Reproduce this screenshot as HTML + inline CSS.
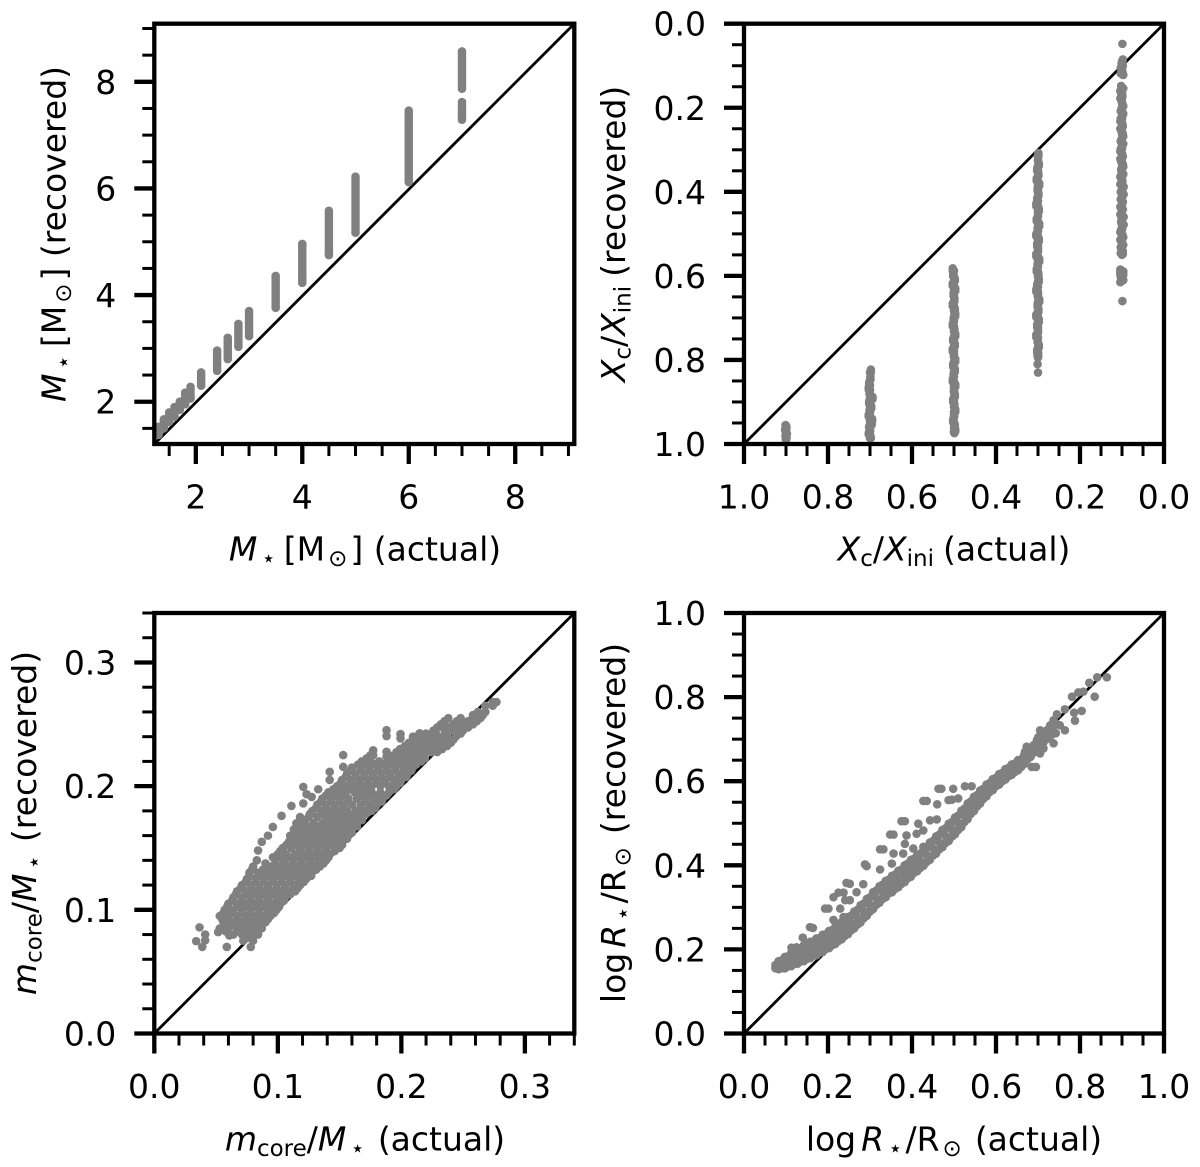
<!DOCTYPE html>
<html lang="en">
<head>
<meta charset="utf-8">
<title>Actual versus recovered stellar parameters</title>
<style>
html,body{margin:0;padding:0;background:#fff;}
svg{display:block;}
text{font-family:"DejaVu Sans",sans-serif;font-size:33px;fill:#000;}
.i{font-style:italic;}
</style>
</head>
<body>
<svg id="figure" xmlns="http://www.w3.org/2000/svg" width="1200" height="1167" viewBox="0 0 1200 1167">
  <rect width="1200" height="1167" fill="#fff"/>
  <g id="panel-mass"></g>
  <g id="panel-hydrogen"></g>
  <g id="panel-core"></g>
  <g id="panel-radius"></g>

  <text x="365" y="560.5" text-anchor="middle"><tspan class="i">M</tspan><tspan dx="4" dy="5.5" font-size="23">⋆</tspan><tspan dx="8" dy="-5.5">[M</tspan><tspan dx="3" dy="5.5" font-size="23">⊙</tspan><tspan dx="3" dy="-5.5">] (actual)</tspan></text>
  <text transform="translate(65.5,234) rotate(-90)" text-anchor="middle"><tspan class="i">M</tspan><tspan dx="4" dy="5.5" font-size="23">⋆</tspan><tspan dx="8" dy="-5.5">[M</tspan><tspan dx="3" dy="5.5" font-size="23">⊙</tspan><tspan dx="3" dy="-5.5">] (recovered)</tspan></text>

  <text x="954" y="560.5" text-anchor="middle"><tspan class="i">X</tspan><tspan dy="5.5" font-size="23">c</tspan><tspan dy="-5.5">/</tspan><tspan class="i">X</tspan><tspan dy="5.5" font-size="23">ini</tspan><tspan dx="9" dy="-5.5">(actual)</tspan></text>
  <text transform="translate(625,234) rotate(-90)" text-anchor="middle"><tspan class="i">X</tspan><tspan dy="5.5" font-size="23">c</tspan><tspan dy="-5.5">/</tspan><tspan class="i">X</tspan><tspan dy="5.5" font-size="23">ini</tspan><tspan dx="9" dy="-5.5">(recovered)</tspan></text>

  <text x="365" y="1150.5" text-anchor="middle"><tspan class="i">m</tspan><tspan dy="5.5" font-size="23">core</tspan><tspan dy="-5.5">/</tspan><tspan class="i">M</tspan><tspan dx="4" dy="5.5" font-size="23">⋆</tspan><tspan dx="13" dy="-5.5">(actual)</tspan></text>
  <text transform="translate(36,823) rotate(-90)" text-anchor="middle"><tspan class="i">m</tspan><tspan dy="5.5" font-size="23">core</tspan><tspan dy="-5.5">/</tspan><tspan class="i">M</tspan><tspan dx="4" dy="5.5" font-size="23">⋆</tspan><tspan dx="13" dy="-5.5">(recovered)</tspan></text>

  <text x="954" y="1150.5" text-anchor="middle">log<tspan class="i" dx="5">R</tspan><tspan dx="4" dy="5.5" font-size="23">⋆</tspan><tspan dx="3" dy="-5.5">/R</tspan><tspan dx="3" dy="5.5" font-size="23">⊙</tspan><tspan dx="13" dy="-5.5">(actual)</tspan></text>
  <text transform="translate(625,823) rotate(-90)" text-anchor="middle">log<tspan class="i" dx="5">R</tspan><tspan dx="4" dy="5.5" font-size="23">⋆</tspan><tspan dx="3" dy="-5.5">/R</tspan><tspan dx="3" dy="5.5" font-size="23">⊙</tspan><tspan dx="13" dy="-5.5">(recovered)</tspan></text>
</svg>

<script>
/* ---------- Tick values and labels ---------- */
const massMajorTicks = [2, 4, 6, 8];
const massTickLabels = ['2', '4', '6', '8'];
const massMinorTicks = [1.5, 2.5, 3, 3.5, 4.5, 5, 5.5, 6.5, 7, 7.5, 8.5, 9];
const fractionMajorTicks = [0, 0.2, 0.4, 0.6, 0.8, 1];
const fractionTickLabels = ['0.0', '0.2', '0.4', '0.6', '0.8', '1.0'];
const fractionMinorTicks = [0.05, 0.1, 0.15, 0.25, 0.3, 0.35, 0.45, 0.5, 0.55, 0.65, 0.7, 0.75, 0.85, 0.9, 0.95];
const coreMajorTicks = [0, 0.1, 0.2, 0.3];
const coreTickLabels = ['0.0', '0.1', '0.2', '0.3'];
const coreMinorTicks = [0.02, 0.04, 0.06, 0.08, 0.12, 0.14, 0.16, 0.18, 0.22, 0.24, 0.26, 0.28, 0.32, 0.34];

/* ---------- Panel 1: stellar mass ---------- */
const massActual = [7, 6, 5, 4.5, 4, 3.5, 3, 2.8, 2.6, 2.4, 2.1, 1.9, 1.8, 1.7, 1.6, 1.5, 1.4, 1.3];
const massRecovered = [
  [8.57, 8.52, 8.47, 8.42, 8.37, 8.32, 8.27, 8.22, 8.17, 8.12, 8.07, 8.02, 7.97, 7.92, 7.87, 7.62, 7.57, 7.52, 7.47, 7.42, 7.37, 7.32, 7.29],
  [7.46, 7.41, 7.36, 7.31, 7.26, 7.21, 7.16, 7.11, 7.06, 7.01, 6.96, 6.91, 6.86, 6.81, 6.76, 6.71, 6.66, 6.61, 6.56, 6.51, 6.46, 6.41, 6.36, 6.31, 6.26, 6.21, 6.16, 6.12],
  [6.22, 6.17, 6.12, 6.07, 6.02, 5.97, 5.92, 5.87, 5.82, 5.77, 5.72, 5.67, 5.62, 5.57, 5.52, 5.47, 5.42, 5.37, 5.32, 5.27, 5.22, 5.17],
  [5.58, 5.53, 5.48, 5.43, 5.38, 5.33, 5.28, 5.23, 5.18, 5.13, 5.08, 5.03, 4.98, 4.93, 4.88, 4.83, 4.78, 4.75],
  [4.96, 4.91, 4.86, 4.81, 4.76, 4.71, 4.66, 4.61, 4.56, 4.51, 4.46, 4.41, 4.36, 4.31, 4.27, 4.23],
  [4.36, 4.31, 4.26, 4.21, 4.16, 4.11, 4.06, 4.01, 3.96, 3.91, 3.86, 3.81, 3.76],
  [3.70, 3.65, 3.60, 3.55, 3.50, 3.45, 3.40, 3.35, 3.30, 3.25, 3.23],
  [3.46, 3.41, 3.36, 3.31, 3.26, 3.21, 3.16, 3.11, 3.06, 3.03],
  [3.20, 3.15, 3.10, 3.05, 3.00, 2.95, 2.90, 2.85, 2.80],
  [2.96, 2.91, 2.86, 2.81, 2.76, 2.71, 2.66, 2.61, 2.58],
  [2.55, 2.50, 2.45, 2.40, 2.35, 2.30],
  [2.28, 2.23, 2.18, 2.13, 2.09, 2.06],
  [2.17, 2.12, 2.07, 2.02, 1.98, 1.95],
  [2.00, 1.96, 1.92, 1.88, 1.85],
  [1.90, 1.85, 1.80, 1.76, 1.72],
  [1.80, 1.75, 1.70, 1.66, 1.62],
  [1.67, 1.63, 1.58, 1.54, 1.50],
  [1.53, 1.49, 1.45, 1.41, 1.38]
];

/* ---------- Panel 2: central hydrogen fraction ---------- */
const hydrogenLevels = [0.9, 0.7, 0.5, 0.3, 0.1];
const hydrogenActual = [
  [0.901, 0.899, 0.902, 0.900, 0.898, 0.901, 0.899, 0.900],
  [0.698, 0.699, 0.702, 0.703, 0.701, 0.694, 0.702, 0.697, 0.701, 0.703, 0.695, 0.696, 0.702, 0.700, 0.703, 0.700, 0.698],
  [0.503, 0.502, 0.498, 0.503, 0.497, 0.501, 0.499, 0.503, 0.498, 0.497, 0.501, 0.503, 0.499, 0.497, 0.502, 0.498, 0.503, 0.500, 0.497, 0.502, 0.498, 0.501, 0.503, 0.497, 0.500, 0.498, 0.502, 0.499, 0.497, 0.500, 0.502, 0.498, 0.497, 0.499],
  [0.299, 0.300, 0.298, 0.302, 0.299, 0.303, 0.297, 0.301, 0.299, 0.302, 0.304, 0.298, 0.300, 0.303, 0.297, 0.301, 0.304, 0.298, 0.302, 0.300, 0.304, 0.297, 0.301, 0.303, 0.299, 0.298, 0.302, 0.304, 0.300, 0.297, 0.301, 0.299, 0.304, 0.298, 0.302, 0.300, 0.304, 0.301, 0.298, 0.302, 0.300, 0.301, 0.300],
  [0.099, 0.098, 0.101, 0.103, 0.099, 0.097, 0.102, 0.104, 0.099, 0.101, 0.097, 0.103, 0.099, 0.104, 0.098, 0.101, 0.097, 0.103, 0.100, 0.104, 0.098, 0.102, 0.097, 0.101, 0.104, 0.099, 0.096, 0.103, 0.100, 0.098, 0.104, 0.101, 0.096, 0.102, 0.099, 0.104, 0.097, 0.101, 0.103, 0.098, 0.100, 0.104, 0.097, 0.103, 0.100, 0.102, 0.097, 0.104, 0.099, 0.101, 0.098]
];
const hydrogenRecovered = [
  [0.955, 0.960, 0.965, 0.970, 0.975, 0.980, 0.985, 0.988],
  [0.823, 0.840, 0.854, 0.866, 0.876, 0.888, 0.898, 0.910, 0.920, 0.930, 0.940, 0.950, 0.958, 0.966, 0.974, 0.980, 0.984],
  [0.582, 0.595, 0.607, 0.618, 0.630, 0.642, 0.654, 0.666, 0.678, 0.690, 0.702, 0.714, 0.726, 0.738, 0.750, 0.762, 0.774, 0.786, 0.798, 0.810, 0.822, 0.834, 0.846, 0.858, 0.870, 0.882, 0.894, 0.906, 0.918, 0.930, 0.942, 0.954, 0.965, 0.974],
  [0.308, 0.320, 0.332, 0.344, 0.356, 0.368, 0.380, 0.392, 0.404, 0.416, 0.428, 0.440, 0.452, 0.464, 0.476, 0.488, 0.500, 0.512, 0.524, 0.536, 0.548, 0.560, 0.572, 0.584, 0.596, 0.608, 0.620, 0.632, 0.644, 0.656, 0.668, 0.680, 0.692, 0.704, 0.716, 0.728, 0.740, 0.752, 0.764, 0.776, 0.788, 0.810, 0.830],
  [0.048, 0.085, 0.095, 0.105, 0.115, 0.122, 0.148, 0.160, 0.172, 0.184, 0.196, 0.208, 0.220, 0.232, 0.244, 0.256, 0.268, 0.280, 0.292, 0.304, 0.316, 0.328, 0.340, 0.352, 0.364, 0.376, 0.388, 0.400, 0.412, 0.424, 0.436, 0.448, 0.460, 0.472, 0.484, 0.496, 0.508, 0.520, 0.532, 0.542, 0.550, 0.585, 0.590, 0.595, 0.600, 0.605, 0.610, 0.615, 0.660, 0.612, 0.592]
];
const hydrogenRecoveredDense = [
  [0.957, 0.962, 0.967, 0.972, 0.977, 0.982, 0.986, 0.990],
  [0.830, 0.847, 0.860, 0.871, 0.882, 0.893, 0.904, 0.915, 0.925, 0.935, 0.945, 0.954, 0.962, 0.970, 0.977, 0.982, 0.986],
  [0.588, 0.601, 0.612, 0.624, 0.636, 0.648, 0.660, 0.672, 0.684, 0.696, 0.708, 0.720, 0.732, 0.744, 0.756, 0.768, 0.780, 0.792, 0.804, 0.816, 0.828, 0.840, 0.852, 0.864, 0.876, 0.888, 0.900, 0.912, 0.924, 0.936, 0.948, 0.960, 0.970, 0.972],
  [0.314, 0.326, 0.338, 0.350, 0.362, 0.374, 0.386, 0.398, 0.410, 0.422, 0.434, 0.446, 0.458, 0.470, 0.482, 0.494, 0.506, 0.518, 0.530, 0.542, 0.554, 0.566, 0.578, 0.590, 0.602, 0.614, 0.626, 0.638, 0.650, 0.662, 0.674, 0.686, 0.698, 0.710, 0.722, 0.734, 0.746, 0.758, 0.770, 0.782, 0.794, 0.790, 0.785],
  [0.090, 0.100, 0.110, 0.118, 0.120, 0.154, 0.166, 0.178, 0.190, 0.202, 0.214, 0.226, 0.238, 0.250, 0.262, 0.274, 0.286, 0.298, 0.310, 0.322, 0.334, 0.346, 0.358, 0.370, 0.382, 0.394, 0.406, 0.418, 0.430, 0.442, 0.454, 0.466, 0.478, 0.490, 0.502, 0.514, 0.526, 0.537, 0.546, 0.548, 0.588, 0.592, 0.598, 0.602, 0.608, 0.612, 0.590, 0.596, 0.604, 0.606, 0.594]
];

/* ---------- Panel 3: core mass fraction (each row shares one recovered value) ---------- */
const coreRowRecovered = [0.075, 0.08, 0.085, 0.09, 0.095, 0.10, 0.105, 0.11, 0.115, 0.12, 0.125, 0.13, 0.135, 0.14, 0.145, 0.15, 0.155, 0.16, 0.165, 0.17, 0.175, 0.18, 0.185, 0.19, 0.195, 0.20, 0.205, 0.21, 0.215, 0.22, 0.225, 0.23, 0.235, 0.24, 0.245, 0.25, 0.255, 0.26, 0.265, 0.268];
const coreRowActual = [
  [0.072, 0.080],
  [0.064, 0.071, 0.078, 0.084],
  [0.053, 0.060, 0.067, 0.074, 0.081, 0.087],
  [0.056, 0.063, 0.070, 0.077, 0.084, 0.090],
  [0.053, 0.060, 0.067, 0.074, 0.081, 0.088, 0.094],
  [0.057, 0.064, 0.071, 0.078, 0.085, 0.092, 0.099],
  [0.060, 0.067, 0.074, 0.081, 0.088, 0.095, 0.102],
  [0.064, 0.071, 0.078, 0.085, 0.092, 0.099, 0.106],
  [0.067, 0.074, 0.081, 0.088, 0.095, 0.102, 0.109, 0.114],
  [0.071, 0.078, 0.085, 0.092, 0.099, 0.106, 0.113, 0.118],
  [0.075, 0.082, 0.089, 0.096, 0.103, 0.110, 0.117, 0.123],
  [0.077, 0.084, 0.091, 0.098, 0.105, 0.112, 0.119, 0.126],
  [0.080, 0.094, 0.101, 0.108, 0.115, 0.122, 0.129, 0.134],
  [0.083, 0.098, 0.105, 0.112, 0.119, 0.126, 0.133, 0.139],
  [0.100, 0.107, 0.114, 0.121, 0.128, 0.135, 0.142],
  [0.104, 0.111, 0.118, 0.125, 0.132, 0.139, 0.146, 0.150],
  [0.109, 0.116, 0.123, 0.130, 0.137, 0.144, 0.150],
  [0.110, 0.117, 0.124, 0.131, 0.138, 0.145, 0.152, 0.157],
  [0.113, 0.120, 0.127, 0.134, 0.141, 0.148, 0.155, 0.160],
  [0.115, 0.122, 0.129, 0.136, 0.143, 0.150, 0.157, 0.164],
  [0.118, 0.125, 0.132, 0.139, 0.146, 0.153, 0.160, 0.167],
  [0.128, 0.135, 0.142, 0.149, 0.156, 0.163, 0.170, 0.176],
  [0.132, 0.139, 0.146, 0.153, 0.160, 0.167, 0.174, 0.180],
  [0.136, 0.143, 0.150, 0.157, 0.164, 0.171, 0.178, 0.185],
  [0.141, 0.148, 0.155, 0.162, 0.169, 0.176, 0.183, 0.190],
  [0.148, 0.155, 0.162, 0.169, 0.176, 0.183, 0.190, 0.196],
  [0.152, 0.159, 0.166, 0.173, 0.180, 0.187, 0.194, 0.200],
  [0.156, 0.163, 0.170, 0.177, 0.184, 0.191, 0.198, 0.205],
  [0.160, 0.167, 0.174, 0.181, 0.188, 0.195, 0.202, 0.209],
  [0.168, 0.175, 0.182, 0.189, 0.196, 0.203, 0.210, 0.216],
  [0.175, 0.190, 0.197, 0.204, 0.211, 0.218],
  [0.199, 0.206, 0.213, 0.220, 0.227, 0.233],
  [0.206, 0.213, 0.220, 0.227, 0.234, 0.240],
  [0.212, 0.222, 0.230, 0.237, 0.244],
  [0.226, 0.235, 0.242, 0.250],
  [0.232, 0.242, 0.250, 0.258],
  [0.238, 0.248, 0.258, 0.264],
  [0.262, 0.268],
  [0.268, 0.274],
  [0.274, 0.277]
];
const coreDenseRowRecovered = [0.0775, 0.0825, 0.0875, 0.0925, 0.0975, 0.1025, 0.1075, 0.1125, 0.1175, 0.1225, 0.1275, 0.1325, 0.1375, 0.1425, 0.1475, 0.1525, 0.1575, 0.1625, 0.1675, 0.1725, 0.1775, 0.1825, 0.1875, 0.1925, 0.1975, 0.2025, 0.2075, 0.2125, 0.2175, 0.2225, 0.2275, 0.2325, 0.2375, 0.2425, 0.2475, 0.2525, 0.2575];
const coreDenseRowActual = [
  [0.076],
  [0.058, 0.068, 0.075, 0.081],
  [0.057, 0.064, 0.071, 0.078, 0.085],
  [0.055, 0.060, 0.067, 0.074, 0.081, 0.087, 0.092],
  [0.056, 0.064, 0.071, 0.078, 0.085, 0.092, 0.097],
  [0.059, 0.068, 0.075, 0.082, 0.089, 0.096, 0.101],
  [0.063, 0.071, 0.078, 0.085, 0.092, 0.099, 0.105],
  [0.066, 0.075, 0.082, 0.089, 0.096, 0.103, 0.110],
  [0.070, 0.078, 0.085, 0.092, 0.099, 0.106, 0.113, 0.116],
  [0.074, 0.082, 0.089, 0.096, 0.103, 0.110, 0.117, 0.121],
  [0.077, 0.086, 0.093, 0.100, 0.107, 0.114, 0.121, 0.127],
  [0.079, 0.088, 0.095, 0.102, 0.109, 0.116, 0.123, 0.131],
  [0.090, 0.098, 0.105, 0.112, 0.119, 0.126, 0.133, 0.137],
  [0.096, 0.102, 0.109, 0.116, 0.123, 0.130, 0.137, 0.141],
  [0.102, 0.104, 0.118, 0.125, 0.132, 0.139, 0.146],
  [0.107, 0.114, 0.121, 0.128, 0.135, 0.142, 0.149, 0.152],
  [0.112, 0.120, 0.127, 0.134, 0.141, 0.148, 0.154, 0.156],
  [0.114, 0.121, 0.128, 0.135, 0.142, 0.149, 0.156, 0.160],
  [0.117, 0.124, 0.131, 0.138, 0.145, 0.152, 0.159, 0.164],
  [0.121, 0.140, 0.147, 0.154, 0.161, 0.168],
  [0.126, 0.136, 0.143, 0.150, 0.157, 0.164, 0.171],
  [0.131, 0.139, 0.146, 0.153, 0.167, 0.174, 0.179],
  [0.135, 0.143, 0.150, 0.157, 0.171, 0.178, 0.184],
  [0.139, 0.147, 0.154, 0.168, 0.175, 0.182, 0.188],
  [0.145, 0.152, 0.159, 0.166, 0.173, 0.194],
  [0.151, 0.159, 0.166, 0.173, 0.180, 0.187, 0.199],
  [0.155, 0.163, 0.170, 0.177, 0.184, 0.191, 0.198, 0.204],
  [0.159, 0.167, 0.174, 0.181, 0.188, 0.195, 0.202, 0.208],
  [0.165, 0.171, 0.178, 0.185, 0.192, 0.199, 0.206, 0.212],
  [0.172, 0.193, 0.200, 0.207, 0.214, 0.219],
  [0.196, 0.203, 0.210, 0.217, 0.224, 0.229],
  [0.203, 0.210, 0.217, 0.224, 0.231, 0.237],
  [0.210, 0.217, 0.224, 0.231, 0.238, 0.242],
  [0.220, 0.228, 0.236, 0.244, 0.248],
  [0.229, 0.238, 0.246, 0.254],
  [0.235, 0.245, 0.254, 0.261],
  [0.258, 0.266]
];
const coreOutlierActual = [0.0781, 0.0587, 0.0607, 0.0366, 0.0412, 0.0339, 0.0388, 0.0412, 0.0517, 0.0587, 0.084, 0.087, 0.092, 0.096, 0.103, 0.111, 0.1206, 0.1233, 0.1206, 0.1274, 0.1327, 0.142, 0.142, 0.1529, 0.1529, 0.188, 0.188, 0.1993, 0.1993, 0.1772, 0.1772, 0.188, 0.188, 0.2148, 0.2094];
const coreOutlierRecovered = [0.07, 0.07, 0.0793, 0.0858, 0.08, 0.0747, 0.07, 0.0753, 0.082, 0.0996, 0.148, 0.155, 0.16, 0.167, 0.176, 0.184, 0.1994, 0.1935, 0.186, 0.1913, 0.1975, 0.2116, 0.205, 0.2251, 0.2156, 0.2453, 0.2405, 0.2421, 0.2386, 0.229, 0.2251, 0.2278, 0.2238, 0.2427, 0.24];

/* ---------- Panel 4: stellar radius ---------- */
const radiusActual = [0.075, 0.09, 0.105, 0.12, 0.135, 0.15, 0.165, 0.18, 0.195, 0.21, 0.225, 0.24, 0.255, 0.27, 0.285, 0.30, 0.315, 0.33, 0.345, 0.36, 0.375, 0.39, 0.405, 0.42, 0.435, 0.45, 0.465, 0.48, 0.495, 0.51, 0.525, 0.54, 0.555, 0.57, 0.585, 0.60, 0.615, 0.63, 0.645, 0.66, 0.675, 0.69, 0.705, 0.72, 0.735];
const radiusRecoveredMid = [0.157, 0.163, 0.171, 0.179, 0.187, 0.194, 0.201, 0.209, 0.218, 0.228, 0.238, 0.249, 0.262, 0.276, 0.291, 0.306, 0.322, 0.337, 0.349, 0.36, 0.372, 0.386, 0.398, 0.41, 0.425, 0.44, 0.455, 0.47, 0.485, 0.50, 0.519, 0.537, 0.553, 0.57, 0.585, 0.598, 0.61, 0.622, 0.632, 0.642, 0.66, 0.678, 0.695, 0.71, 0.722];
const radiusRecoveredLow = [0.155, 0.155, 0.16, 0.166, 0.172, 0.178, 0.185, 0.192, 0.201, 0.21, 0.22, 0.232, 0.245, 0.259, 0.274, 0.29, 0.306, 0.32, 0.333, 0.344, 0.356, 0.369, 0.382, 0.394, 0.408, 0.423, 0.438, 0.453, 0.468, 0.484, 0.503, 0.522, 0.54, 0.558, 0.574, 0.588, 0.60, 0.612, 0.622, 0.634, 0.652, 0.668, 0.685, 0.70, 0.712];
const radiusRecoveredHigh = [0.163, 0.174, 0.184, 0.193, 0.202, 0.211, 0.219, 0.227, 0.236, 0.246, 0.256, 0.267, 0.28, 0.294, 0.309, 0.324, 0.34, 0.354, 0.366, 0.378, 0.39, 0.404, 0.416, 0.428, 0.443, 0.458, 0.473, 0.488, 0.503, 0.518, 0.535, 0.552, 0.567, 0.582, 0.596, 0.608, 0.62, 0.632, 0.642, 0.652, 0.668, 0.686, 0.704, 0.718, 0.73];
const radiusDenseActual = [0.0825, 0.0975, 0.1125, 0.1275, 0.1425, 0.1575, 0.1725, 0.1875, 0.2025, 0.2175, 0.2325, 0.2475, 0.2625, 0.2775, 0.2925, 0.3075, 0.3225, 0.3375, 0.3525, 0.3675, 0.3825, 0.3975, 0.4125, 0.4275, 0.4425, 0.4575, 0.4725, 0.4875, 0.5025, 0.5175, 0.5325, 0.5475, 0.5625, 0.5775, 0.5925, 0.6075, 0.6225, 0.6375, 0.6525, 0.6675, 0.6825, 0.6975, 0.7125, 0.7275, 0.7425];
const radiusDenseLow = [0.153, 0.155, 0.16, 0.166, 0.172, 0.179, 0.186, 0.194, 0.203, 0.213, 0.224, 0.236, 0.25, 0.264, 0.28, 0.296, 0.311, 0.324, 0.336, 0.348, 0.36, 0.373, 0.386, 0.399, 0.413, 0.428, 0.443, 0.458, 0.474, 0.491, 0.51, 0.529, 0.547, 0.564, 0.579, 0.592, 0.604, 0.615, 0.626, 0.641, 0.658, 0.674, 0.691, 0.704, 0.714];
const radiusDenseHigh = [0.172, 0.182, 0.192, 0.201, 0.21, 0.218, 0.226, 0.235, 0.244, 0.254, 0.265, 0.277, 0.29, 0.305, 0.32, 0.336, 0.35, 0.363, 0.375, 0.387, 0.4, 0.413, 0.425, 0.439, 0.454, 0.469, 0.484, 0.499, 0.514, 0.53, 0.547, 0.563, 0.578, 0.592, 0.605, 0.617, 0.629, 0.64, 0.65, 0.663, 0.68, 0.698, 0.714, 0.726, 0.738];
const radiusOutlierActual = [0.864, 0.841, 0.822, 0.808, 0.796, 0.781, 0.835, 0.764, 0.745, 0.804, 0.786, 0.788, 0.764, 0.752, 0.737, 0.729, 0.721, 0.705, 0.701, 0.717, 0.737, 0.713, 0.695, 0.685, 0.673, 0.669, 0.705, 0.661, 0.542, 0.526, 0.498, 0.47, 0.463, 0.427, 0.435, 0.46, 0.495, 0.487, 0.51, 0.383, 0.375, 0.415, 0.443, 0.459, 0.356, 0.348, 0.387, 0.383, 0.411, 0.427, 0.324, 0.332, 0.356, 0.292, 0.288, 0.324, 0.352, 0.379, 0.403, 0.427, 0.252, 0.244, 0.284, 0.237, 0.225, 0.213, 0.268, 0.252, 0.241, 0.193, 0.201, 0.229, 0.164, 0.157, 0.14, 0.125, 0.113, 0.213, 0.237, 0.26];
const radiusOutlierRecovered = [0.847, 0.847, 0.834, 0.813, 0.811, 0.801, 0.801, 0.771, 0.759, 0.767, 0.763, 0.744, 0.721, 0.733, 0.745, 0.733, 0.721, 0.721, 0.705, 0.701, 0.69, 0.678, 0.634, 0.634, 0.682, 0.67, 0.666, 0.65, 0.588, 0.588, 0.582, 0.582, 0.582, 0.553, 0.553, 0.545, 0.556, 0.555, 0.559, 0.505, 0.505, 0.499, 0.507, 0.509, 0.473, 0.473, 0.471, 0.451, 0.475, 0.483, 0.438, 0.438, 0.428, 0.398, 0.402, 0.39, 0.404, 0.428, 0.44, 0.444, 0.356, 0.358, 0.355, 0.335, 0.335, 0.324, 0.336, 0.317, 0.317, 0.297, 0.297, 0.297, 0.251, 0.253, 0.228, 0.205, 0.204, 0.27, 0.277, 0.281];

/* ---------- Drawing helpers ---------- */
const SVG_NS = 'http://www.w3.org/2000/svg';

function make(parent, tag, attrs) {
  const el = document.createElementNS(SVG_NS, tag);
  Object.keys(attrs).forEach(function (k) { el.setAttribute(k, attrs[k]); });
  parent.appendChild(el);
  return el;
}

function drawPoints(group, xValues, yValues, sx, sy) {
  for (let i = 0; i < xValues.length; i++) {
    const dot = make(group, 'circle', { cx: sx(xValues[i]), cy: sy(yValues[i]), r: 4.3, fill: '#808080' });
    
    
  }
}

function drawAxes(group, box, sx, sy, majors, labels, minors) {
  const frame = make(group, 'rect', { x: box.left, y: box.top, width: box.right - box.left, height: box.bottom - box.top, fill: 'none', stroke: '#000', 'stroke-width': 4.3 });
  
  

  minors.forEach(function (v) {
    const xMinor = make(group, 'line', { x1: sx(v), x2: sx(v), y1: box.bottom, y2: box.bottom + 12, stroke: '#000', 'stroke-width': 3 });
    
    
    const yMinor = make(group, 'line', { x1: box.left - 12, x2: box.left, y1: sy(v), y2: sy(v), stroke: '#000', 'stroke-width': 3 });
    
    
  });

  majors.forEach(function (v, i) {
    const xMajor = make(group, 'line', { x1: sx(v), x2: sx(v), y1: box.bottom, y2: box.bottom + 20, stroke: '#000', 'stroke-width': 4.3 });
    
    
    const yMajor = make(group, 'line', { x1: box.left - 20, x2: box.left, y1: sy(v), y2: sy(v), stroke: '#000', 'stroke-width': 4.3 });
    
    

    const xLabel = make(group, 'text', { x: sx(v), y: box.bottom + 64.5, 'text-anchor': 'middle' });
    
    
    xLabel.textContent = labels[i];
    const yLabel = make(group, 'text', { x: box.left - 38, y: sy(v) + 12, 'text-anchor': 'end' });
    
    
    yLabel.textContent = labels[i];
  });
}

function setupPanel(id, box, xMin, xMax, yMin, yMax) {
  const group = document.getElementById(id);
  const sx = function (v) { return box.left + (v - xMin) / (xMax - xMin) * (box.right - box.left); };
  const sy = function (v) { return box.bottom + (v - yMin) / (yMax - yMin) * (box.top - box.bottom); };
  const diagonal = make(group, 'line', { x1: box.left, y1: box.bottom, x2: box.right, y2: box.top, stroke: '#000', 'stroke-width': 2.8 });
  
  
  return { group: group, sx: sx, sy: sy, box: box };
}

/* ---------- Panel 1 ---------- */
(function () {
  const p = setupPanel('panel-mass', { left: 154.3, right: 574.3, top: 23.7, bottom: 444 }, 1.22, 9.11, 1.207, 9.09);
  massActual.forEach(function (level, i) {
    drawPoints(p.group, massRecovered[i].map(function () { return level; }), massRecovered[i], p.sx, p.sy);
  });
  drawAxes(p.group, p.box, p.sx, p.sy, massMajorTicks, massTickLabels, massMinorTicks);
})();

/* ---------- Panel 2 ---------- */
(function () {
  const p = setupPanel('panel-hydrogen', { left: 744, right: 1164, top: 23.7, bottom: 444 }, 1, 0, 1, 0);
  hydrogenActual.forEach(function (column, i) {
    drawPoints(p.group, column, hydrogenRecovered[i], p.sx, p.sy);
    drawPoints(p.group, column, hydrogenRecoveredDense[i], p.sx, p.sy);
    drawPoints(p.group, hydrogenRecoveredDense[i].map(function () { return hydrogenLevels[i]; }), hydrogenRecoveredDense[i], p.sx, p.sy);
  });
  drawAxes(p.group, p.box, p.sx, p.sy, fractionMajorTicks, fractionTickLabels, fractionMinorTicks);
})();

/* ---------- Panel 3 ---------- */
(function () {
  const p = setupPanel('panel-core', { left: 154.3, right: 574.3, top: 613, bottom: 1033.5 }, 0, 0.34, 0, 0.34);
  coreRowActual.forEach(function (row, i) {
    drawPoints(p.group, row, row.map(function () { return coreRowRecovered[i]; }), p.sx, p.sy);
  });
  coreDenseRowActual.forEach(function (row, i) {
    drawPoints(p.group, row, row.map(function () { return coreDenseRowRecovered[i]; }), p.sx, p.sy);
  });
  drawPoints(p.group, coreOutlierActual, coreOutlierRecovered, p.sx, p.sy);
  drawAxes(p.group, p.box, p.sx, p.sy, coreMajorTicks, coreTickLabels, coreMinorTicks);
})();

/* ---------- Panel 4 ---------- */
(function () {
  const p = setupPanel('panel-radius', { left: 744, right: 1164, top: 613, bottom: 1033.5 }, 0, 1, 0, 1);
  drawPoints(p.group, radiusActual, radiusRecoveredLow, p.sx, p.sy);
  drawPoints(p.group, radiusActual, radiusRecoveredMid, p.sx, p.sy);
  drawPoints(p.group, radiusActual, radiusRecoveredHigh, p.sx, p.sy);
  drawPoints(p.group, radiusDenseActual, radiusDenseLow, p.sx, p.sy);
  drawPoints(p.group, radiusDenseActual, radiusDenseHigh, p.sx, p.sy);
  drawPoints(p.group, radiusOutlierActual, radiusOutlierRecovered, p.sx, p.sy);
  drawAxes(p.group, p.box, p.sx, p.sy, fractionMajorTicks, fractionTickLabels, fractionMinorTicks);
})();
</script>
</body>
</html>
